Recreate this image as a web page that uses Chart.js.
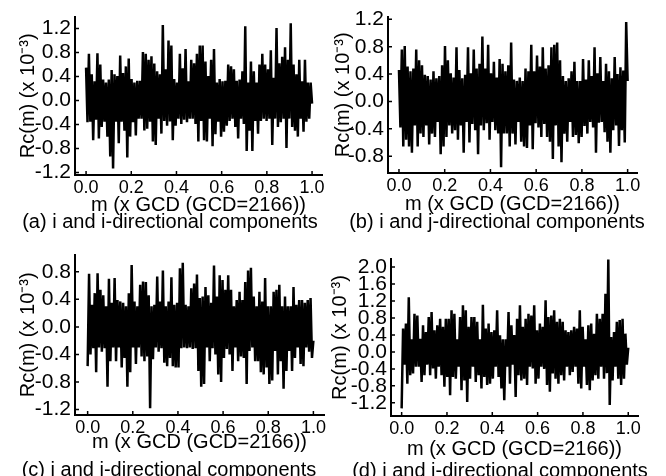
<!DOCTYPE html>
<html>
<head>
<meta charset="utf-8">
<script src="https://cdn.jsdelivr.net/npm/chart.js@4.4.1/dist/chart.umd.min.js"></script>
<style>
  body { margin: 0; width: 666px; height: 476px; background: #fff; position: relative; overflow: hidden;
         font-family: "Liberation Sans", Arial, sans-serif; }
  canvas { position: absolute; }
  .cap { position: absolute; font-size: 20px; white-space: nowrap; color: #000; transform: translate(-50%, -50%); }
</style>
</head>
<body>
<canvas id="chartA" width="330" height="238" style="left:0;top:0"></canvas>
<canvas id="chartB" width="340" height="238" style="left:326px;top:0"></canvas>
<canvas id="chartC" width="330" height="238" style="left:0;top:238px"></canvas>
<canvas id="chartD" width="340" height="238" style="left:326px;top:238px"></canvas>
<div class="cap" id="capA" style="left:170px;top:221px"></div>
<div class="cap" id="capB" style="left:497px;top:221px"></div>
<div class="cap" id="capC" style="left:169px;top:469px"></div>
<div class="cap" id="capD" style="left:500px;top:470px"></div>
<script>
// Rc(m) values (x 10^-3), evenly spaced over m = 0..1
const valuesA = [0.55,-0.36,0.78,-0.35,0.44,-0.66,0.32,-0.32,0.79,-0.63,
  0.6,-0.44,0.35,-0.35,0.3,-0.6,0.35,-0.93,0.51,-1.13,
  0.44,-0.35,0.41,-0.71,0.75,-0.35,0.46,-0.5,0.57,-0.95,
  0.7,-0.6,0.36,-0.36,0.3,-0.58,0.33,-0.3,0.33,-0.3,
  0.81,-0.5,0.78,-0.47,0.68,-0.35,0.74,-0.68,0.62,-0.74,
  0.49,-0.3,0.44,-0.55,1.26,-0.34,0.52,-0.42,1.0,-0.35,
  0.92,-0.66,0.36,-0.42,0.3,-0.3,0.78,-0.39,0.54,-0.32,
  0.86,-0.36,0.32,-0.3,0.68,-0.3,0.62,-0.39,0.78,-0.68,
  0.92,-0.34,0.92,-0.66,0.65,-0.68,0.41,-0.3,0.68,-0.76,
  0.86,-0.56,0.3,-0.35,0.36,-0.6,0.32,-0.52,0.33,-0.42,
  0.6,-0.34,0.57,-0.3,0.52,-0.44,0.33,-0.63,0.35,-0.3,
  0.49,-0.39,1.24,-0.84,0.3,-0.5,0.65,-0.84,0.49,-0.34,
  0.3,-0.55,0.6,-0.34,0.78,-0.3,0.6,-0.34,0.52,-0.3,
  0.84,-0.74,0.38,-0.3,1.21,-0.44,0.62,-0.36,0.73,-0.3,
  0.89,-0.79,0.68,-0.3,1.29,-0.44,0.6,-0.5,0.44,-0.6,
  0.68,-0.3,0.32,-0.52,0.68,-0.35,0.3,-0.3,0.3,-0.05];

const valuesB = [0.46,-0.38,0.76,-0.66,0.81,-0.56,0.51,-0.66,0.44,-0.75,
  0.48,-0.35,0.76,-0.66,0.6,-0.47,0.53,-0.52,0.39,-0.35,
  0.37,-0.63,0.32,-0.47,0.44,-0.52,0.34,-0.3,0.37,-0.77,
  0.53,-0.66,0.81,-0.52,0.6,-0.35,0.41,-0.47,0.35,-0.42,
  0.79,-0.56,0.46,-0.35,0.34,-0.75,0.39,-0.3,0.79,-0.6,
  0.41,-0.33,0.76,-0.42,0.48,-0.77,0.55,-0.35,0.95,-0.42,
  0.48,-0.32,0.83,-0.56,0.41,-0.3,0.58,-0.42,0.35,-0.47,
  0.62,-0.96,0.55,-0.47,0.44,-0.47,0.53,-0.66,0.86,-0.47,
  0.32,-0.63,0.3,-0.3,0.35,-0.59,0.3,-0.66,0.48,-0.68,
  0.44,-0.35,0.83,-0.7,0.44,-0.32,0.67,-0.38,0.51,-0.52,
  0.79,-0.33,0.48,-0.52,0.53,-0.59,0.79,-0.84,0.83,-0.35,
  0.86,-0.66,0.6,-0.89,0.37,-0.47,0.3,-0.59,0.34,-0.3,
  0.44,-0.52,0.58,-0.49,0.3,-0.61,0.3,-0.52,0.62,-0.36,
  0.32,-0.47,0.6,-0.3,0.37,-0.38,0.79,-0.75,0.41,-0.31,
  0.65,-0.3,0.3,-0.45,0.55,-0.59,0.44,-0.75,0.34,-0.42,
  0.65,-0.35,0.4,-0.65,0.5,-0.42,0.45,-0.6,1.16,0.3];

const valuesC = [-0.57,0.77,-0.4,0.32,-0.31,0.49,-0.66,0.78,-0.3,0.54,
  -0.36,0.46,-0.31,0.3,-0.87,0.7,-0.5,0.35,-0.3,0.71,
  -0.5,0.39,-0.3,0.37,-0.59,0.35,-0.45,0.3,-0.87,0.49,
  -0.66,0.9,-0.3,0.37,-0.54,0.3,-0.3,0.61,-0.43,0.66,
  -0.5,0.65,-0.43,0.46,-1.18,0.3,-0.47,0.32,-0.3,0.73,
  -0.36,0.37,-0.31,0.82,-0.52,0.3,-0.57,0.37,-0.45,0.72,
  -0.57,0.32,-0.59,0.35,-0.59,0.85,-0.31,0.93,-0.3,0.32,
  -0.31,0.3,-0.3,0.56,-0.32,0.63,-0.31,0.76,-0.64,0.42,
  -0.87,0.44,-0.83,0.58,-0.3,0.46,-0.5,0.35,-0.31,0.89,
  -0.4,0.44,-0.69,0.75,-0.8,0.68,-0.45,0.54,-0.32,0.75,
  -0.4,0.54,-0.64,0.3,-0.3,0.39,-0.5,0.51,-0.43,0.39,
  -0.45,0.65,-0.83,0.82,-0.35,0.86,-0.3,0.44,-0.5,0.3,
  -0.5,0.51,-0.66,0.37,-0.69,0.71,-0.59,0.3,-0.83,0.3,
  -0.78,0.51,-0.35,0.54,-0.69,0.61,-0.5,0.3,-0.9,0.44,
  -0.64,0.3,-0.35,0.3,-0.64,0.58,-0.45,0.32,-0.3,0.39,
  -0.54,0.39,-0.57,0.35,-0.3,0.39,-0.36,0.42,-0.45,-0.2];

const valuesD = [-1.33,0.55,-0.3,0.67,-0.75,1.29,-0.55,0.3,-0.51,0.9,
  -0.35,0.86,-0.35,0.31,-0.71,0.63,-0.55,0.47,-0.3,0.82,
  -0.55,0.94,-0.39,0.51,-0.63,0.63,-0.35,0.78,-0.55,0.59,
  -0.82,0.78,-0.59,0.78,-1.02,0.98,-0.59,0.9,-0.63,0.3,
  -0.35,0.82,-0.9,1.1,-0.67,0.98,-1.18,0.59,-0.63,0.82,
  -0.35,0.82,-0.71,0.71,-0.55,0.3,-0.86,1.11,-0.59,0.55,
  -0.78,0.67,-0.75,0.47,-0.63,0.51,-0.35,0.98,-0.59,0.39,
  -0.86,0.3,-1.14,0.3,-0.35,0.94,-0.75,0.63,-0.3,0.4,
  -1.06,0.78,-0.55,1.1,-0.67,0.59,-0.63,0.78,-0.78,0.9,
  -0.35,0.86,-0.39,1.1,-0.75,0.51,-0.63,0.67,-0.35,0.59,
  -0.4,1.22,-0.78,0.82,-0.94,0.86,-0.51,0.98,-0.63,0.71,
  -0.75,0.78,-0.55,0.71,-0.67,0.51,-0.35,0.47,-0.55,0.51,
  -0.47,0.59,-0.35,0.55,-0.75,0.98,-0.86,0.59,-0.35,0.3,
  -0.78,0.63,-0.9,0.67,-0.67,0.43,-0.55,0.9,-0.63,0.78,
  -0.35,0.9,-0.63,1.37,-0.5,2.18,-1.25,0.35,-0.67,0.47,
  -0.35,0.71,-0.63,0.75,-0.78,0.78,-0.63,0.43,-0.3,0.1];

// tick labels
const xTicks = [0.0, 0.2, 0.4, 0.6, 0.8, 1.0];
const yTicksA = [-1.2, -0.8, -0.4, 0.0, 0.4, 0.8, 1.2];
const yTicksB = [-0.8, -0.4, 0.0, 0.4, 0.8, 1.2];
const yTicksC = [-1.2, -0.8, -0.4, 0.0, 0.4, 0.8];
const yTicksD = [-1.2, -0.8, -0.4, 0.0, 0.4, 0.8, 1.2, 1.6, 2.0];

const xTitle = 'm (x GCD (GCD=2166))';
const yTitle = 'Rc(m) (x 10\u207B\u00B3)';
const captions = ['(a) i and i-directional components', '(b) i and j-directional components',
                  '(c) j and i-directional components', '(d) j and j-directional components'];

const FONT = 'Liberation Sans, Arial, sans-serif';

// small inward tick marks, like the original axes
const innerTicks = {
  id: 'innerTicks',
  afterDraw(chart) {
    const { ctx, chartArea, scales } = chart;
    ctx.save();
    ctx.strokeStyle = '#000';
    ctx.lineWidth = 1.5;
    ctx.beginPath();
    scales.x.ticks.forEach(t => {
      const px = scales.x.getPixelForValue(t.value);
      ctx.moveTo(px, chartArea.bottom);
      ctx.lineTo(px, chartArea.bottom - 4);
    });
    scales.y.ticks.forEach(t => {
      const py = scales.y.getPixelForValue(t.value);
      ctx.moveTo(chartArea.left, py);
      ctx.lineTo(chartArea.left + 4, py);
    });
    ctx.stroke();
    ctx.restore();
  }
};

function makePanel(id, values, yTicks, lay) {
  const pts = values.map((v, i) => ({ x: i / (values.length - 1), y: v }));
  new Chart(document.getElementById(id), {
    type: 'line',
    data: {
      datasets: [{
        data: pts,
        borderColor: '#000',
        borderWidth: 2.5,
        borderJoinStyle: 'bevel',
        pointRadius: 0,
        tension: 0,
        fill: false
      }]
    },
    options: {
      responsive: false,
      animation: false,
      devicePixelRatio: 1,
      layout: { autoPadding: false, padding: lay.pad },
      plugins: { legend: { display: false }, tooltip: { enabled: false } },
      scales: {
        x: {
          type: 'linear',
          min: lay.xMin, max: lay.xMax,
          grid: { display: false, drawTicks: false },
          border: { display: true, color: '#000', width: 2 },
          ticks: { padding: 2, color: '#000', font: { family: FONT, size: 18 }, maxRotation: 0, autoSkip: false,
                   callback: v => v.toFixed(1) },
          afterBuildTicks: s => { s.ticks = xTicks.map(v => ({ value: v })); },
          afterFit: s => { s.height = lay.xH; },
          title: { display: true, text: xTitle, color: '#000', font: { family: FONT, size: 20 }, padding: 0 }
        },
        y: {
          min: lay.yMin, max: lay.yMax,
          grid: { display: false, drawTicks: false },
          border: { display: true, color: '#000', width: 2 },
          ticks: { padding: 4, color: '#000', font: { family: FONT, size: 21 }, autoSkip: false,
                   callback: v => v.toFixed(1) },
          afterBuildTicks: s => { s.ticks = yTicks.map(v => ({ value: v })); },
          afterFit: s => { s.width = lay.yW; },
          title: { display: true, text: yTitle, color: '#000', font: { family: FONT, size: 20 }, padding: 0 }
        }
      }
    },
    plugins: [innerTicks]
  });
}

makePanel('chartA', valuesA, yTicksA, {
  pad: { left: 16, right: 8, top: 9, bottom: 21 }, yW: 59, xH: 42,
  xMin: -0.049, xMax: 1.044, yMin: -1.24, yMax: 1.40
});
makePanel('chartB', valuesB, yTicksB, {
  pad: { left: 5, right: 29, top: 8, bottom: 22 }, yW: 57, xH: 43,
  xMin: -0.048, xMax: 1.041, yMin: -1.046, yMax: 1.24
});
makePanel('chartC', valuesC, yTicksC, {
  pad: { left: 16, right: 6, top: 11, bottom: 22 }, yW: 59, xH: 39,
  xMin: -0.056, xMax: 1.047, yMin: -1.28, yMax: 1.05
});
makePanel('chartD', valuesD, yTicksD, {
  pad: { left: 2, right: 28, top: 21, bottom: 15 }, yW: 63, xH: 45,
  xMin: -0.047, xMax: 1.043, yMin: -1.51, yMax: 2.19
});

['capA', 'capB', 'capC', 'capD'].forEach((id, i) => {
  document.getElementById(id).textContent = captions[i];
});
</script>
</body>
</html>
